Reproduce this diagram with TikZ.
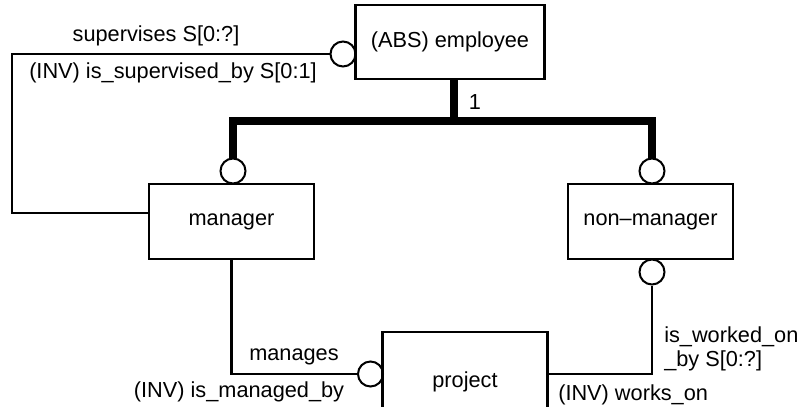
\documentclass[tikz,border=0pt]{standalone}
\usepackage{fontspec}
\setmainfont{Liberation Sans}
\usetikzlibrary{positioning}

\begin{document}
\begin{tikzpicture}[
    x=0.75pt, y=-0.75pt,
    every node/.style={font=\fontsize{16.3}{19}\selectfont},
    entity/.style={draw, line width=2pt, minimum width=123.75pt, minimum height=56.25pt, inner sep=0pt},
    ring/.style={draw, circle, line width=1.5pt, minimum size=18.75pt, inner sep=0pt},
    lbl/.style={inner sep=0pt},
    link/.style={line width=2pt},
    isa/.style={line width=6pt}
]
\useasboundingbox (0,0) rectangle (800,407);
\clip (0,0) rectangle (800,407);

% Entities
\node[entity, minimum width=141.75pt, minimum height=55.5pt] (E) at (450,42) {(ABS) employee};
\node[entity] (M) at (231.5,221.5) {manager};
\node[entity] (N) at (650.5,221.5) {non\textendash manager};
\node[entity, minimum height=75pt] (P) at (465,382) {project};

% Optional ends
\node[ring] (RE) at (343,54) {};
\node[ring] (RM) at (233,171) {};
\node[ring] (RN) at (652,171) {};
\node[ring] (RN2) at (652,272) {};
\node[ring] (RP) at (370.5,374) {};

% Corners
\coordinate (SL) at (12,54);
\coordinate (SB) at (12,213);
\coordinate (F) at (454,121);

% Supervises
\draw[link, line width=1.2pt] (RE.west) -- (SL) -- (SB) -- (SB -| M.west);
\node[lbl] (sup) at (156,36) {supervises S[0:?]};
\node[lbl] (supinv) at (173,73) {(INV) is\_supervised\_by S[0:1]};

% Subtypes
\draw[isa] (F |- E.south) -- (F);
\draw[isa] (RM.north) -- (RM.north |- F) -- (RN.north |- F) -- (RN.north);
\node[lbl] (one) at (475,102) {1};

% Manages
\draw[link] (M.south) |- (RP.west);
\node[lbl] (man) at (294,357) {manages};
\node[lbl] (maninv) at (239,392) {(INV) is\_managed\_by};

% Works on
\draw[link] (P.east |- RP) -| (RN2.south);
\node[lbl, anchor=base west] (work) at (664,342) {is\_worked\_on};
\node[lbl, anchor=base west] (work2) at (664,366) {\_by S[0:?]};
\node[lbl, anchor=west] (workinv) at (558,395) {(INV) works\_on};

\end{tikzpicture}
\end{document}
